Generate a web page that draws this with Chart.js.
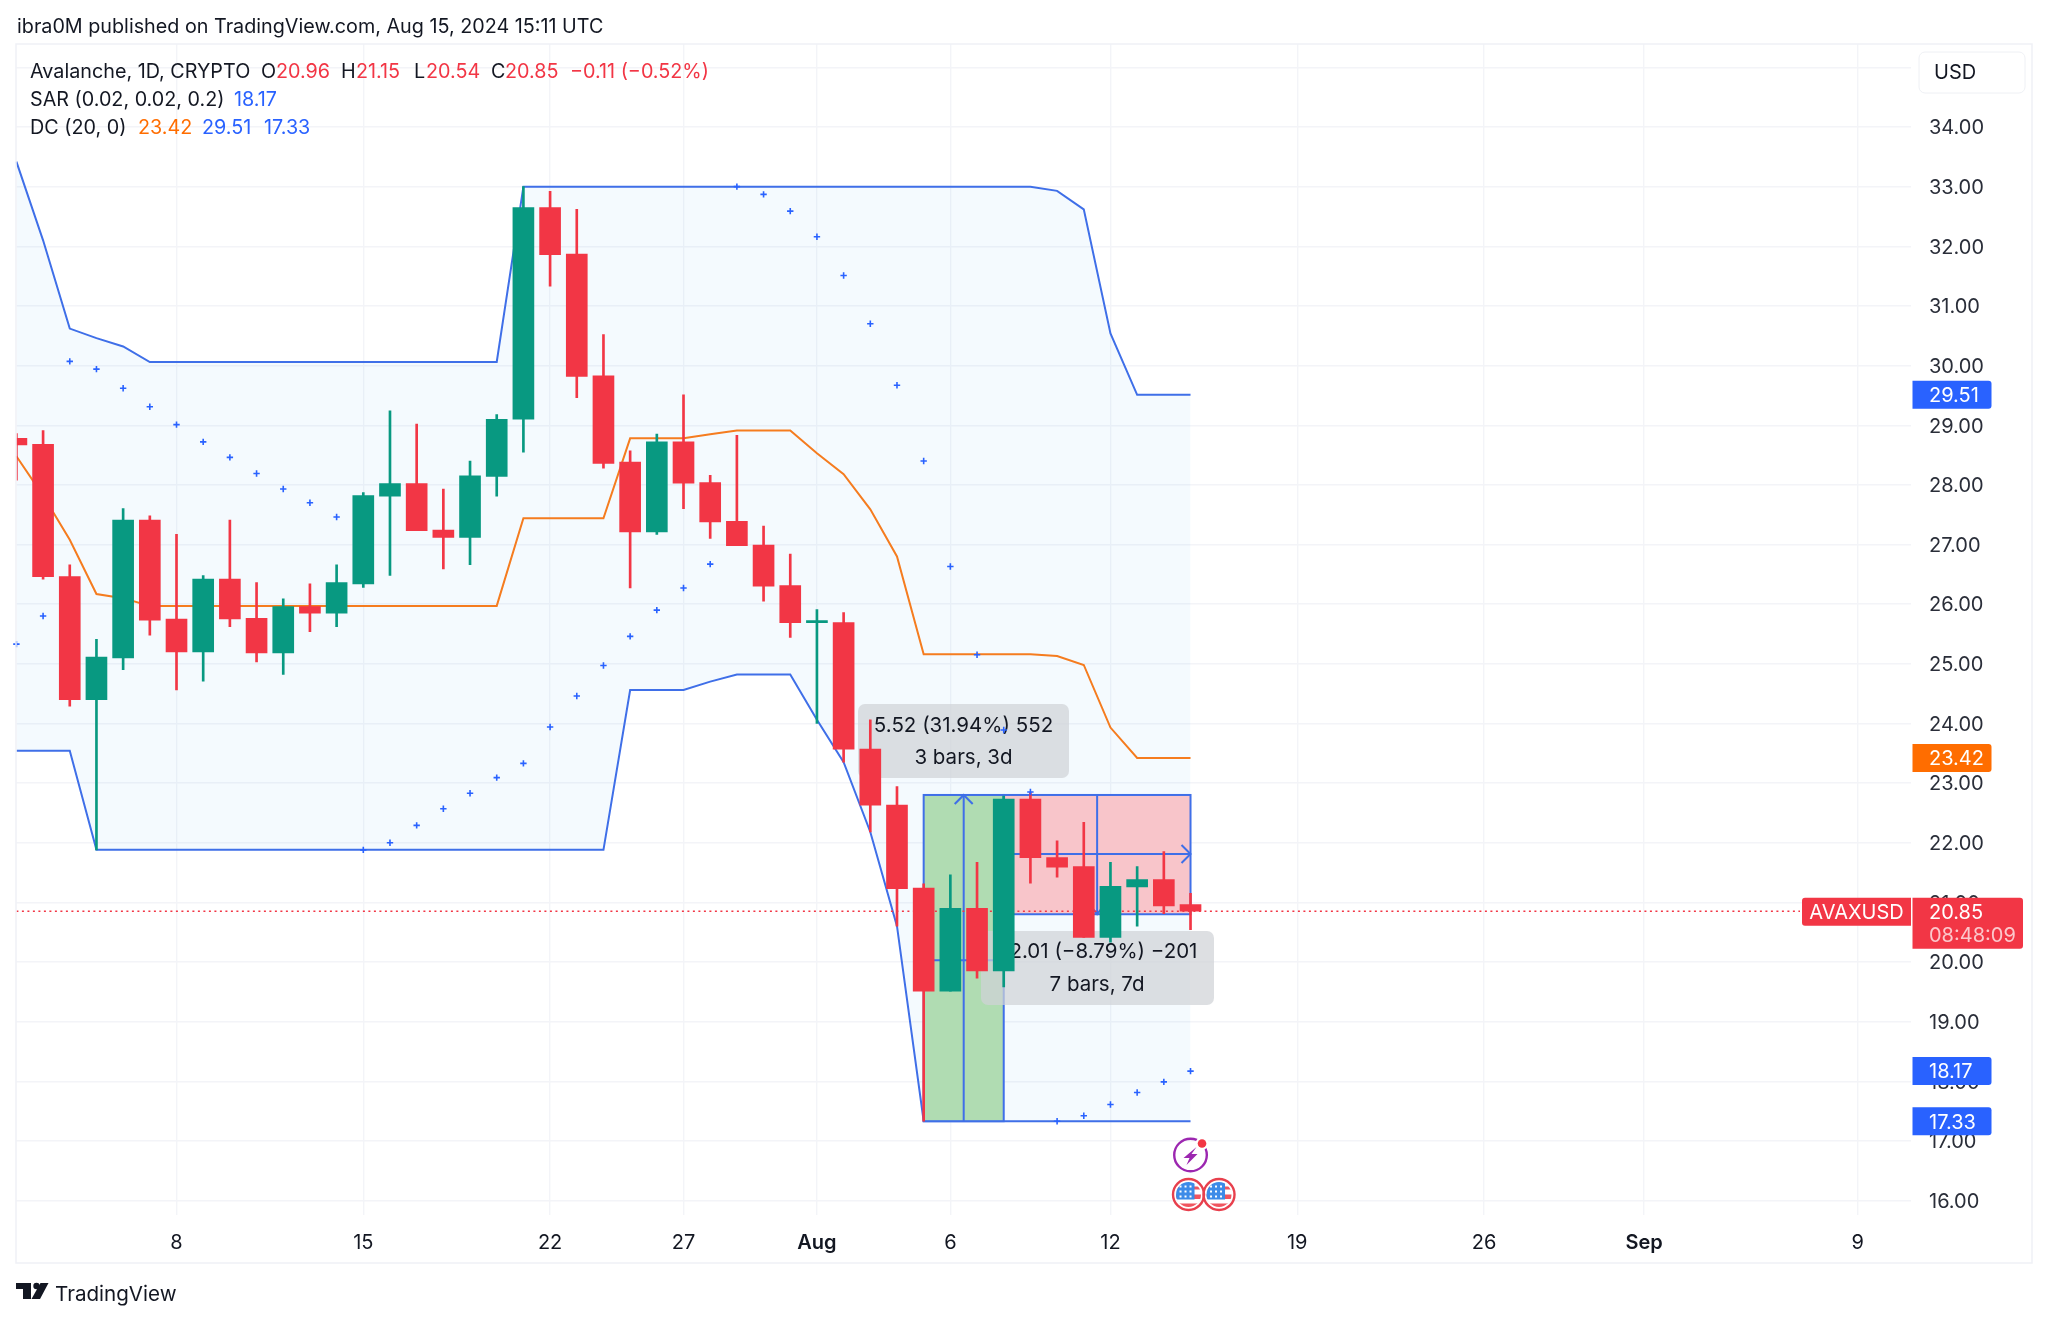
<!DOCTYPE html>
<html>
<head>
<meta charset="utf-8">
<title>AVAXUSD</title>
<style>
html,body{margin:0;padding:0;background:#fff;}
canvas{display:block;}
</style>
<script src="https://cdn.jsdelivr.net/npm/chart.js@4/dist/chart.umd.min.js"></script>
</head>
<body>
<canvas id="avax-chart" width="2048" height="1321"></canvas>
<script>
const days=['Jul 2','Jul 3','Jul 4','Jul 5','Jul 6','Jul 7','Jul 8','Jul 9','Jul 10','Jul 11','Jul 12','Jul 13','Jul 14','Jul 15','Jul 16','Jul 17','Jul 18','Jul 19','Jul 20','Jul 21','Jul 22','Jul 23','Jul 24','Jul 25','Jul 26','Jul 27','Jul 28','Jul 29','Jul 30','Jul 31','Aug 1','Aug 2','Aug 3','Aug 4','Aug 5','Aug 6','Aug 7','Aug 8','Aug 9','Aug 10','Aug 11','Aug 12','Aug 13','Aug 14','Aug 15','Aug 16','Aug 17','Aug 18','Aug 19','Aug 20','Aug 21','Aug 22','Aug 23','Aug 24','Aug 25','Aug 26','Aug 27','Aug 28','Aug 29','Aug 30','Aug 31','Sep 1','Sep 2','Sep 3','Sep 4','Sep 5','Sep 6','Sep 7','Sep 8','Sep 9','Sep 10','Sep 11'];
const tickDays=['Jul 8','Jul 15','Jul 22','Jul 27','Aug 1','Aug 6','Aug 12','Aug 19','Aug 26','Sep 1','Sep 9'];
const tickLabels=['8','15','22','27','Aug','6','12','19','26','Sep','9'];
const priceTicks=[16,17,18,19,20,21,22,23,24,25,26,27,28,29,30,31,32,33,34,35];

const opens=[28.78,28.68,26.46,24.40,25.10,27.41,25.75,25.20,26.42,25.76,25.18,25.96,25.85,26.34,27.81,28.02,27.24,27.12,28.14,29.10,32.65,31.87,29.83,28.38,27.21,28.72,28.04,27.39,26.99,26.31,25.69,25.69,23.57,22.63,21.24,19.51,20.90,19.85,22.73,21.75,21.60,20.41,21.26,21.38,20.96];
const highs=[28.86,28.91,26.66,25.41,27.60,27.48,27.17,26.48,27.41,26.36,26.09,26.34,26.66,27.87,29.24,29.02,27.93,28.40,29.18,33.00,32.92,32.62,30.52,28.57,28.85,29.51,28.16,28.83,27.31,26.84,25.91,25.86,24.06,22.94,21.31,21.46,21.67,22.78,22.84,22.03,22.34,21.67,21.60,21.85,21.15];
const lows=[28.08,26.42,24.29,21.88,24.90,25.48,24.56,24.71,25.62,25.03,24.82,25.54,25.62,26.28,26.48,27.23,26.59,26.66,27.81,28.55,31.33,29.46,28.28,26.27,27.17,27.60,27.10,26.98,26.05,25.44,24.00,23.35,22.18,20.60,17.33,19.51,19.73,19.58,21.32,21.42,20.41,20.33,20.60,20.81,20.54];
const closes=[28.67,26.46,24.40,25.11,27.41,25.73,25.20,26.42,25.75,25.18,25.96,25.85,26.36,27.82,28.02,27.23,27.12,28.15,29.10,32.65,31.86,29.82,28.36,27.21,28.72,28.03,27.38,26.98,26.30,25.69,25.70,23.57,22.63,21.23,19.51,20.90,19.85,22.73,21.75,21.59,20.41,21.27,21.38,20.94,20.85];

const dcUpper=[33.42,32.10,30.62,30.46,30.32,30.06,30.06,30.06,30.06,30.06,30.06,30.06,30.06,30.06,30.06,30.06,30.06,30.06,30.06,33.00,33.00,33.00,33.00,33.00,33.00,33.00,33.00,33.00,33.00,33.00,33.00,33.00,33.00,33.00,33.00,33.00,33.00,33.00,33.00,32.93,32.62,30.54,29.51,29.51,29.51];
const dcMiddle=[28.48,27.82,27.08,26.17,26.10,25.97,25.97,25.97,25.97,25.97,25.97,25.97,25.97,25.97,25.97,25.97,25.97,25.97,25.97,27.44,27.44,27.44,27.44,28.78,28.78,28.78,28.85,28.91,28.91,28.91,28.53,28.18,27.59,26.80,25.16,25.16,25.16,25.16,25.16,25.13,24.98,23.93,23.42,23.42,23.42];
const dcLower=[23.54,23.54,23.54,21.88,21.88,21.88,21.88,21.88,21.88,21.88,21.88,21.88,21.88,21.88,21.88,21.88,21.88,21.88,21.88,21.88,21.88,21.88,21.88,24.56,24.56,24.56,24.70,24.82,24.82,24.82,24.06,23.35,22.18,20.60,17.33,17.33,17.33,17.33,17.33,17.33,17.33,17.33,17.33,17.33,17.33];
const sar=[25.33,25.80,30.07,29.94,29.62,29.31,29.01,28.72,28.46,28.19,27.93,27.70,27.46,21.88,22.00,22.29,22.57,22.83,23.09,23.33,23.94,24.46,24.97,25.46,25.90,26.27,26.67,33.00,32.87,32.59,32.16,31.51,30.70,29.67,28.40,26.63,25.15,23.89,22.85,17.33,17.42,17.61,17.81,17.99,18.17];

const UP='#089981', DOWN='#f23645', BLUE='#2962ff', LINEBLUE='#3f6fe8', ORANGE='#ff6d00', INK='#131722', GRID='#f3f4f8';
const FONT='Inter, "Noto Sans", sans-serif';
const TEXT_DY=1.3;

const candleColors=opens.map((o,i)=>closes[i]>=o ? UP : DOWN);

// header, ohlc legend
const texts=[
  ['ibra0M published on TradingView.com, Aug 15, 2024 15:11 UTC',17,26,INK],
  ['Avalanche, 1D, CRYPTO',30,71,INK],
  ['O',261,71,INK],['20.96',276,71,DOWN],
  ['H',341,71,INK],['21.15',356,71,DOWN],
  ['L',414,71,INK],['20.54',426,71,DOWN],
  ['C',491,71,INK],['20.85',505,71,DOWN],
  ['−0.11 (−0.52%)',570,71,DOWN],
  ['SAR (0.02, 0.02, 0.2)',30,99,INK],['18.17',234,99,BLUE],
  ['DC (20, 0)',30,127,INK],['23.42',138,127,ORANGE],['29.51',202,127,BLUE],['17.33',264,127,BLUE]
];
// last value tags on the price axis
const tagValues=[29.51,23.42,18.17,17.33];
const tagColors=[BLUE,ORANGE,BLUE,BLUE];
const lastPrice=20.85;

function roundBox(ctx,x,y,w,h,r,fill,stroke){
  ctx.beginPath();
  ctx.roundRect(x,y,w,h,r);
  if(fill){ctx.fillStyle=fill;ctx.fill();}
  if(stroke){ctx.strokeStyle=stroke;ctx.stroke();}
}

function line(ctx,pts){
  ctx.beginPath();
  pts.forEach((p,i)=>i ? ctx.lineTo(p[0],p[1]) : ctx.moveTo(p[0],p[1]));
  ctx.stroke();
}

// the two measure tools + price line, they sit under the candles
function drawTools(chart){
  const ctx=chart.ctx, xs=chart.scales.x, ys=chart.scales.y;
  const x34=xs.getPixelForValue(34), x37=xs.getPixelForValue(37), x44=xs.getPixelForValue(44);
  const xm=(x34+x37)/2, xr=(x37+x44)/2;
  const top=ys.getPixelForValue(22.80), bot=ys.getPixelForValue(17.33);
  const rb=ys.getPixelForValue(20.80), rm=ys.getPixelForValue(21.81), gm=ys.getPixelForValue(20.03);
  ctx.save();
  ctx.fillStyle='rgb(176,220,178)';
  ctx.fillRect(x34,top,x37-x34,bot-top);
  ctx.fillStyle='rgb(248,197,202)';
  ctx.fillRect(x37,top,x44-x37,rb-top);

  ctx.strokeStyle=LINEBLUE;
  ctx.lineWidth=2;
  ctx.strokeRect(x34,top,x37-x34,bot-top);
  ctx.strokeRect(x37,top,x44-x37,rb-top);
  line(ctx,[[xm,top],[xm,bot]]);
  line(ctx,[[xm-9,top+9],[xm,top],[xm+9,top+9]]);
  line(ctx,[[x34,gm],[x37,gm]]);
  line(ctx,[[xr,top],[xr,rb]]);
  line(ctx,[[x37,rm],[x44,rm]]);
  line(ctx,[[x44-9,rm-9],[x44,rm],[x44-9,rm+9]]);
  line(ctx,[[xr-4,rb-5],[xr,rb],[xr+4,rb-5]]);

  // price line
  const py=ys.getPixelForValue(lastPrice);
  ctx.strokeStyle=DOWN;
  ctx.lineWidth=1.5;
  ctx.setLineDash([2,3.5]);
  line(ctx,[[chart.chartArea.left,py],[1800,py]]);
  ctx.setLineDash([]);

  // info boxes
  roundBox(ctx,858,704,211,74,7,'rgba(208,210,215,0.72)');
  roundBox(ctx,981,931,233,74,7,'rgba(208,210,215,0.72)');
  ctx.fillStyle=INK;
  ctx.font='20.5px '+FONT;
  ctx.textAlign='center';
  ctx.textBaseline='middle';
  ctx.fillText('5.52 (31.94%) 552',963.5,725+TEXT_DY);
  ctx.fillText('3 bars, 3d',963.5,757+TEXT_DY);
  ctx.fillText('−2.01 (−8.79%) −201',1097,951+TEXT_DY);
  ctx.fillText('7 bars, 7d',1097,984+TEXT_DY);
  ctx.restore();
}

function drawFlag(ctx,cx,cy){
  ctx.save();
  ctx.beginPath();
  ctx.arc(cx,cy,12.5,0,Math.PI*2);
  ctx.clip();
  ctx.fillStyle='#fff';
  ctx.fillRect(cx-13,cy-13,26,26);
  ctx.fillStyle='#f0555f';
  ctx.fillRect(cx-13,cy-8,26,3);
  ctx.fillRect(cx-13,cy,26,4.5);
  ctx.fillRect(cx-13,cy+9,26,6);
  ctx.fillStyle='#3d8be8';
  ctx.fillRect(cx-13,cy-13,19,18);
  ctx.fillStyle='#fff';
  for(let r=0;r<3;r++){
    for(let c=0;c<3;c++){
      ctx.fillRect(cx-9+c*5,cy-9+r*5,2,2);
    }
  }
  ctx.restore();
  ctx.beginPath();
  ctx.arc(cx,cy,15.5,0,Math.PI*2);
  ctx.lineWidth=2.4;
  ctx.strokeStyle='#e8404d';
  ctx.stroke();
}

const overlayPlugin={
  id:'tvOverlay',
  beforeDatasetDraw(chart,args){
    if(chart.data.datasets[args.index].label==='wicks') drawTools(chart);
  },
  afterDraw(chart){
    const ctx=chart.ctx, ys=chart.scales.y, xs=chart.scales.x;
    ctx.save();
    // frame
    ctx.strokeStyle='#eff1f6';
    ctx.lineWidth=1.5;
    ctx.strokeRect(16,44,2016,1219);

    ctx.font='19.75px '+FONT;
    ctx.textBaseline='middle';
    ctx.textAlign='left';
    texts.forEach(t=>{
      ctx.fillStyle=t[3];
      ctx.fillText(t[0],t[1],t[2]+TEXT_DY);
    });

    // logo
    ctx.fillStyle=INK;
    ctx.fillRect(16,1283,15,6);
    ctx.fillRect(23,1283,8,16);
    ctx.beginPath();
    ctx.arc(36.5,1286,3.2,0,Math.PI*2);
    ctx.fill();
    ctx.beginPath();
    ctx.moveTo(40.5,1283);ctx.lineTo(48.5,1283);ctx.lineTo(40,1299);ctx.lineTo(31.5,1299);
    ctx.fill();
    ctx.font='20.6px '+FONT;
    ctx.fillText('TradingView',55,1293+TEXT_DY);

    // USD button
    ctx.font='20px '+FONT;
    ctx.lineWidth=1;
    roundBox(ctx,1919,52,106,41,6,'#fff','#eef0f4');
    ctx.fillStyle=INK;
    ctx.fillText('USD',1934,72+TEXT_DY);

    // tags
    tagValues.forEach((v,i)=>{
      const y=ys.getPixelForValue(v);
      roundBox(ctx,1912.5,y-14,79,28,[0,3,3,0],tagColors[i]);
      ctx.fillStyle='#fff';
      ctx.fillText(v.toFixed(2),1929,y+TEXT_DY);
    });
    const py=ys.getPixelForValue(lastPrice);
    roundBox(ctx,1802,py-13.5,109,28,[3,0,0,3],DOWN);
    roundBox(ctx,1912.5,py-13.5,110.5,51,[0,3,3,0],DOWN);
    ctx.fillStyle='#fff';
    ctx.textAlign='center';
    ctx.fillText('AVAXUSD',1856.5,py+TEXT_DY);
    ctx.textAlign='left';
    ctx.fillText(lastPrice.toFixed(2),1929,py+TEXT_DY);
    ctx.fillStyle='rgba(255,255,255,0.72)';
    ctx.fillText('08:48:09',1929,py+23+TEXT_DY);

    // event icons
    const ex=xs.getPixelForValue(44);
    ctx.beginPath();
    ctx.arc(ex,1155,16.3,0,Math.PI*2);
    ctx.lineWidth=2.4;
    ctx.strokeStyle='#9c27b0';
    ctx.stroke();
    ctx.fillStyle='#9c27b0';
    ctx.beginPath();
    ctx.moveTo(ex+6,1147);ctx.lineTo(ex-7,1158);ctx.lineTo(ex-1,1158);ctx.lineTo(ex-4,1165);ctx.lineTo(ex+7,1154);ctx.lineTo(ex+1,1154);
    ctx.fill();
    ctx.beginPath();
    ctx.arc(ex+11.5,1143.5,6.5,0,Math.PI*2);
    ctx.fillStyle='#fff';
    ctx.fill();
    ctx.beginPath();
    ctx.arc(ex+11.5,1143.5,4.3,0,Math.PI*2);
    ctx.fillStyle=DOWN;
    ctx.fill();
    drawFlag(ctx,ex+28.5,1194.5);
    drawFlag(ctx,ex-2,1194.5);
    ctx.restore();
  }
};

const ctx=document.getElementById('avax-chart').getContext('2d');
const myChart=new Chart(ctx,{
  type:'bar',
  data:{
    labels:days,
    datasets:[
      {type:'line',label:'DC upper',data:dcUpper,borderColor:LINEBLUE,borderWidth:2,pointRadius:0,tension:0,order:6,
        fill:{target:1},backgroundColor:'rgba(33,150,243,0.05)'},
      {type:'line',label:'DC lower',data:dcLower,borderColor:LINEBLUE,borderWidth:2,pointRadius:0,tension:0,order:5,fill:false},
      {type:'line',label:'DC middle',data:dcMiddle,borderColor:'#f57c1f',borderWidth:2,pointRadius:0,tension:0,order:4,fill:false},
      {label:'wicks',data:lows.map((l,i)=>[l,highs[i]]),backgroundColor:candleColors,barThickness:2,grouped:false,order:3},
      {label:'bodies',data:opens.map((o,i)=>[o,closes[i]]),backgroundColor:candleColors,barThickness:21,minBarLength:2,grouped:false,order:2},
      {type:'line',label:'SAR',data:sar,showLine:false,pointStyle:'cross',pointRadius:3.2,pointBorderWidth:1.6,pointBorderColor:BLUE,borderColor:BLUE,fill:false,order:1}
    ]
  },
  options:{
    responsive:false,
    animation:false,
    events:[],
    layout:{padding:{left:16.4,right:0,top:44,bottom:59}},
    plugins:{legend:{display:false},tooltip:{enabled:false}},
    scales:{
      x:{
        type:'category',
        offset:false,
        grid:{offset:false,color:GRID,lineWidth:1.4,drawTicks:false},
        border:{display:false},
        afterBuildTicks(s){ s.ticks=s.ticks.filter(t=>tickDays.includes(s.getLabelForValue(t.value))); },
        afterFit(s){ s.height=47; },
        ticks:{
          autoSkip:false,maxRotation:0,padding:16,color:INK,
          font(c){ const l=c.tick&&c.tick.label; return {family:FONT,size:20,weight:(l==='Aug'||l==='Sep')?'600':'400'}; },
          callback(v){ const i=tickDays.indexOf(this.getLabelForValue(v)); return i<0?'':tickLabels[i]; }
        }
      },
      y:{
        position:'right',
        min:15.757,
        max:35.392,
        grid:{color:GRID,lineWidth:1.4,drawTicks:false},
        border:{display:false},
        afterBuildTicks(s){ s.ticks=priceTicks.map(v=>({value:v})); },
        afterFit(s){ s.width=137; },
        ticks:{
          autoSkip:false,padding:18,crossAlign:'near',labelOffset:TEXT_DY,color:'#2a2e39',
          font:{family:FONT,size:20},
          callback(v){ return v===35?'':v.toFixed(2); }
        }
      }
    }
  },
  plugins:[overlayPlugin]
});
</script>
</body>
</html>
